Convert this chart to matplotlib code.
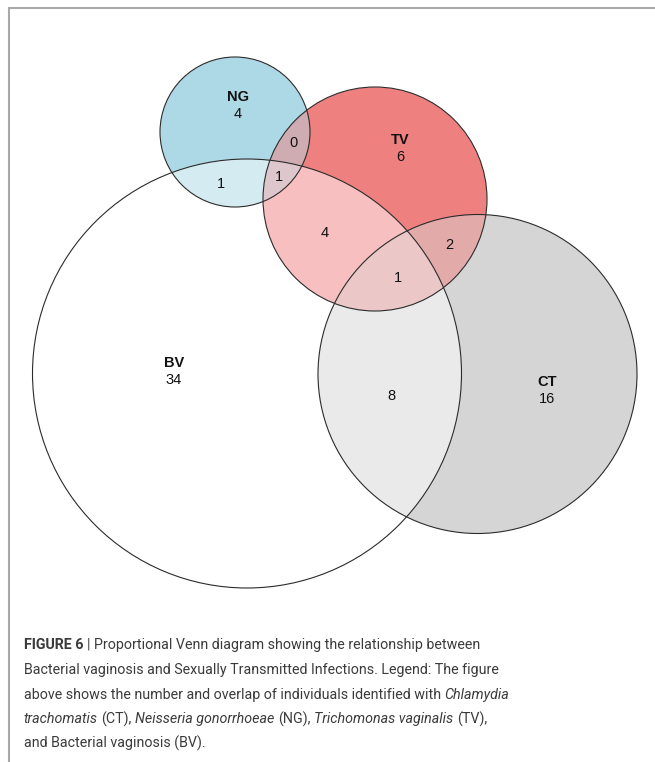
import numpy as np
import matplotlib
matplotlib.use("Agg")
import matplotlib.pyplot as plt
from matplotlib.patches import Circle
from matplotlib import colors as mcolors

# ---- data ----
set_names = ["BV", "CT", "NG", "TV"]
set_only = [34, 16, 4, 6]
overlap_keys = ["BV&NG", "BV&NG&TV", "NG&TV", "BV&TV", "CT&TV", "BV&CT&TV", "BV&CT"]
overlap_counts = [1, 1, 0, 4, 2, 1, 8]

# ---- layout (pixel coordinates of the picture) ----
W, H = 655, 762
circles = {
    "BV": (247, 373.5, 214.5),
    "CT": (477.5, 374, 159.5),
    "NG": (235, 132, 75),
    "TV": (375, 199, 112),
}
fills = {"BV": "#ffffff", "CT": "#d6d6d6", "NG": "#add8e6", "TV": "#f08080"}
name_pos = {"BV": (174, 363), "CT": (547, 382), "NG": (238, 97), "TV": (400, 140)}
overlap_pos = {
    "BV&NG": (221, 184), "BV&NG&TV": (279, 177), "NG&TV": (293, 143),
    "BV&TV": (325, 233), "CT&TV": (449, 245), "BV&CT&TV": (398, 278),
    "BV&CT": (391, 396),
}

fig = plt.figure(figsize=(W / 100, H / 100), dpi=100)
ax = fig.add_axes([0, 0, 1, 1])
ax.set_xlim(0, W)
ax.set_ylim(H, 0)
ax.axis("off")

# region fills: colour of each region is the mean of the colours of its sets
step = 0.25
xs = np.arange(0, W, step) + step / 2
ys = np.arange(0, 600, step) + step / 2
gx, gy = np.meshgrid(xs, ys)
acc = np.zeros(gx.shape + (3,))
cnt = np.zeros(gx.shape)
for s in set_names:
    cx, cy, r = circles[s]
    inside = (gx - cx) ** 2 + (gy - cy) ** 2 <= r ** 2
    acc[inside] += mcolors.to_rgb(fills[s])
    cnt[inside] += 1
img = np.ones(gx.shape + (4,))
has = cnt > 0
img[has, :3] = acc[has] / cnt[has][:, None]
img[~has, 3] = 0
ax.imshow(img, extent=(0, W, 600, 0), interpolation="antialiased", zorder=1)

for s in set_names:
    cx, cy, r = circles[s]
    ax.add_patch(Circle((cx, cy), r, fill=False, ec="#2b2b2b", lw=0.8, zorder=2))

lab_font = "Liberation Sans"
lab_size = 10.5
for s, n in zip(set_names, set_only):
    x, y = name_pos[s]
    ax.text(x, y, s, ha="center", va="center", fontsize=lab_size, fontweight="bold",
            family=lab_font, color="#111111", zorder=3)
    ax.text(x, y + 17, str(n), ha="center", va="center", fontsize=lab_size,
            family=lab_font, color="#111111", zorder=3)
for k, n in zip(overlap_keys, overlap_counts):
    x, y = overlap_pos[k]
    ax.text(x, y, str(n), ha="center", va="center", fontsize=lab_size,
            family=lab_font, color="#111111", zorder=3)

# frame lines
ax.plot([9, 9], [8, H], color="#a8a8a8", lw=1.5, solid_capstyle="butt", zorder=4)
ax.plot([8.3, W], [8, 8], color="#a8a8a8", lw=1.5, solid_capstyle="butt", zorder=4)

# caption
cap_font = "Roboto"
cap_color = "#3b3b3b"
caption = [
    [("FIGURE 6", "normal", "bold"), (" | Proportional Venn diagram showing the relationship between", "normal", "normal")],
    [("Bacterial vaginosis and Sexually Transmitted Infections. Legend: The figure", "normal", "normal")],
    [("above shows the number and overlap of individuals identified with ", "normal", "normal"), ("Chlamydia", "italic", "normal")],
    [("trachomatis", "italic", "normal"), (" (CT), ", "normal", "normal"), ("Neisseria gonorrhoeae", "italic", "normal"),
     (" (NG), ", "normal", "normal"), ("Trichomonas vaginalis", "italic", "normal"), (" (TV),", "normal", "normal")],
    [("and Bacterial vaginosis (BV).", "normal", "normal")],
]
renderer = fig.canvas.get_renderer()


def text_width(s, style, weight, size):
    t = ax.text(0, 0, s, fontsize=size, family=cap_font, style=style, weight=weight)
    w = t.get_window_extent(renderer).width
    t.remove()
    return w


def layout_line(runs, size, y=None):
    sp = text_width("x x", "normal", "normal", size) - text_width("xx", "normal", "normal", size)
    x = 24
    for s, style, weight in runs:
        lead = len(s) - len(s.lstrip(" "))
        trail = len(s) - len(s.rstrip(" "))
        core = s.strip(" ")
        x += lead * sp
        if y is not None:
            ax.text(x, y, core, fontsize=size, family=cap_font, style=style, weight=weight,
                    color=cap_color, va="center", ha="left", zorder=3)
        x += text_width(core, style, weight, size) + trail * sp
    return x


# size chosen so the second (plain) caption line spans the same width as the original
cap_size = 12 * (498 - 24) / (layout_line(caption[1], 12) - 24)
line_y = [645, 670, 694.5, 719, 743.5]
for runs, y in zip(caption, line_y):
    layout_line(runs, cap_size, y)

fig.savefig("out.png", dpi=100)
